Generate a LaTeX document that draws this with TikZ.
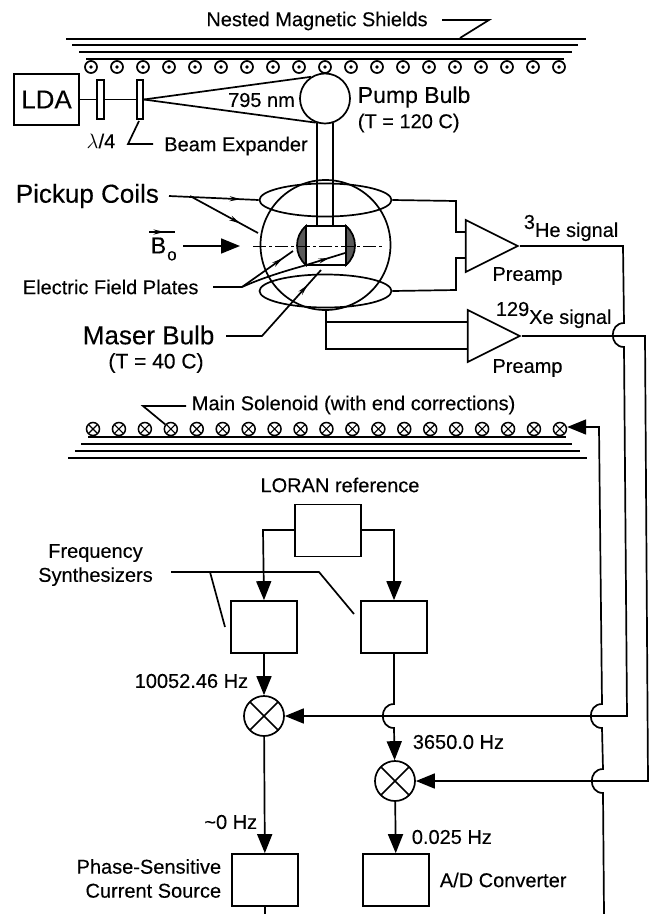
\documentclass[tikz,border=0pt]{standalone}
\usepackage{fontspec}
\setmainfont[FakeBold=0.25]{Liberation Sans}
\usetikzlibrary{arrows.meta,shapes.geometric,decorations.markings}

\tikzset{
  txt/.style={inner sep=0pt,font=\fontsize{20}{24}\selectfont,align=center},
  bigtxt/.style={inner sep=0pt,font=\fontsize{26}{30}\selectfont},
  bx/.style={draw,rectangle,inner sep=0pt,minimum width=66pt,minimum height=52pt},
  plate/.style={draw,rectangle,inner sep=0pt,fill=white,minimum width=7pt,minimum height=39pt},
  wireout/.style={draw,circle,inner sep=0pt,minimum size=12pt,
    path picture={\fill (path picture bounding box.center) circle (1.8pt);}},
  wirein/.style={draw,circle,inner sep=0pt,minimum size=13pt,line width=1.5pt,
    path picture={\draw[line width=1.1pt] (path picture bounding box.north west) -- (path picture bounding box.south east)
      (path picture bounding box.north east) -- (path picture bounding box.south west);}},
  mixer/.style={draw,circle,inner sep=0pt,minimum size=40pt,
    path picture={\draw (path picture bounding box.north west) -- (path picture bounding box.south east)
      (path picture bounding box.north east) -- (path picture bounding box.south west);}},
  amp/.style={draw,isosceles triangle,isosceles triangle stretches,inner sep=0pt,
    minimum width=52pt,minimum height=52pt,anchor=apex},
  coil/.style={draw,ellipse,inner sep=0pt,minimum width=132pt,minimum height=33pt},
  tip/.style={-{Triangle[length=19pt,width=15pt]}},
  backtip/.style={{Triangle[length=19pt,width=15pt]}-},
  midtip/.style={postaction={decorate},decoration={markings,
    mark=at position #1 with {\arrow{Stealth[length=11pt,width=5pt]}}}},
  hop/.style={insert path={.. controls +(-15,0) and +(-15,0) .. +(0,24)}},
  shield/.style={line width=1.9pt}
}

\begin{document}
\begin{tikzpicture}[x=1pt,y=-1pt,line width=1.7pt]
  \useasboundingbox (0,0) rectangle (652,914);

  % shields and windings
  \foreach \y/\a/\b in {39/66/586,45/72/578,52/79/572,59/86/564,
                        437/88/566,444/81/572,451/75/580,458/68/587}
    \draw[shield] (\a,\y) -- (\b,\y);
  \foreach \i in {0,...,18}
    \node[wireout] (top\i) at ({91+26*\i},67) {};
  \foreach \i in {0,...,18}
    \node[wirein] (sol\i) at ({93+25.94*\i},429) {};

  % optics
  \begin{scope}[every node/.style={}]
    \node[draw,rectangle,inner sep=0pt,minimum width=65pt,minimum height=51pt,
      font=\fontsize{26}{30}\selectfont] (lda) at (46.5,99.5) {LDA};
    \node[plate] (wave) at (100.5,99.5) {};
    \node[plate,minimum width=6pt] (expander) at (140,99.5) {};
    \node[draw,circle,inner sep=0pt,minimum size=50pt] (pump) at (325,98.5) {};
    \node[draw,circle,inner sep=0pt,minimum size=130pt] (maser) at (325.5,245) {};
    \node[coil] (coilup) at (325.5,200) {};
    \node[coil] (coildown) at (325.5,291) {};
  \end{scope}
  \path[draw,fill=black!65] (306,226) .. controls (294,236) and (294,255) .. (306,265) -- cycle;
  \path[draw,fill=black!65] (346,226) .. controls (358,236) and (358,255) .. (346,265) -- cycle;
  \node[draw,rectangle,inner sep=0pt,minimum width=40pt,minimum height=39pt] (cell) at (326,245.5) {};

  \coordinate (stemla) at (317,123);
  \coordinate (stemlb) at (317,226);
  \coordinate (stemra) at (333,123);
  \coordinate (stemrb) at (333,226);
  \coordinate (axisa) at (253,246);
  \coordinate (axisb) at (384,246);
  \draw (lda) -- (wave);
  \draw (wave) -- (expander);
  \draw (expander.east) -- (pump.123);
  \draw (expander.east) -- (pump.249);
  \draw (stemla) -- (stemlb);
  \draw (stemra) -- (stemrb);
  \draw[line width=.8pt,dash pattern=on 13pt off 3pt on 3pt off 3pt] (axisa) -- (axisb);

  % labels, top half
  \node[txt] (shieldtxt) at (317,21) {Nested Magnetic Shields};
  \node[txt] (nm) at (261.5,100) {795 nm};
  \node[txt] (qwtxt) at (101,141) {$\lambda$/4};
  \node[txt] (beamtxt) at (236,146) {Beam Expander};
  \node[inner sep=0pt,font=\fontsize{23}{27}\selectfont,anchor=west] (pumptxt) at (357,97) {Pump Bulb};
  \node[txt,anchor=west] (pumpt) at (357,123) {(T = 120 C)};
  \node[bigtxt,anchor=west] (pickup) at (15,196) {Pickup Coils};
  \node[inner sep=0pt,font=\fontsize{23}{27}\selectfont,anchor=west] (bfield) at (150,249)
    {B\kern1pt\raisebox{-7pt}{\fontsize{17}{17}\selectfont o}};
  \node[txt,anchor=west] (platetxt) at (22,287) {Electric Field Plates};
  \node[bigtxt,anchor=west] (masertxt) at (82,335) {Maser Bulb};
  \node[txt,font=\fontsize{21}{24}\selectfont] (masert) at (156,363) {(T = 40 C)};
  \node[txt,anchor=west] (soltxt) at (191,405) {Main Solenoid (with end corrections)};

  % leaders
  \coordinate (sha) at (442,20);
  \coordinate (shb) at (489,20);
  \coordinate (shc) at (460,38);
  \draw (sha) -- (shb) -- (shc);
  \coordinate (bea) at (139,121);
  \coordinate (beb) at (128,144);
  \coordinate (bec) at (153,144);
  \draw (bea) -- (beb) -- (bec);
  \coordinate (pia) at (169,196);
  \coordinate (pib) at (190,196);
  \coordinate (pic) at (258,233);
  \draw[midtip=.8] (pia) -- (coilup.west);
  \draw[midtip=.74] (pib) -- (pic);
  \coordinate (ba) at (149,232);
  \coordinate (bb) at (175,232);
  \draw[midtip=.6] (ba) -- (bb);
  \coordinate (bc) at (183,246);
  \coordinate (bd) at (240,246);
  \draw[tip] (bc) -- (bd);
  \coordinate (ela) at (213,287);
  \coordinate (elb) at (242,287);
  \coordinate (elc) at (293,251);
  \coordinate (eld) at (303,266);
  \coordinate (ele) at (345,253);
  \draw (ela) -- (elb);
  \draw[midtip=.8] (elb) -- (elc);
  \draw[midtip=.85] (elb) .. controls (262,278) and (285,271) .. (eld) -- (ele);
  \coordinate (maa) at (226,336);
  \coordinate (mab) at (262,336);
  \coordinate (mac) at (321,270);
  \draw[midtip=.84] (maa) -- (mab) -- (mac);
  \coordinate (soa) at (186,406);
  \coordinate (sob) at (143,406);
  \draw (soa) -- (sob) -- (sol3);

  % preamps
  \node[amp] (heamp) at (520,246) {};
  \node[amp] (xeamp) at (522,336) {};
  \node[txt,anchor=west] (hetxt) at (523,228) {\raisebox{8pt}{3}He signal};
  \node[txt,anchor=west] (xetxt) at (495,315) {\raisebox{8pt}{129}Xe signal};
  \node[txt] (prea) at (527.5,276) {Preamp};
  \node[txt] (preb) at (527.5,368) {Preamp};

  \coordinate (hia) at (456,201);
  \coordinate (hib) at (456,232);
  \coordinate (hie) at (456,258);
  \coordinate (hif) at (456,290);
  \draw (coilup.east) -- (hia) -- (hib) -- (hib -| heamp.west);
  \draw (hie -| heamp.west) -- (hie) -- (hif) -- (coildown.east);
  \coordinate (xia) at (326,309);
  \coordinate (xib) at (326,322);
  \coordinate (xid) at (326,349);
  \draw (xia) -- (xid) -- (xid -| xeamp.west);
  \draw (xib) -- (xib -| xeamp.west);

  % frequency chain
  \node[bx] (loran) at (328,530.5) {};
  \node[bx] (syna) at (264,627) {};
  \node[bx] (synb) at (394,627) {};
  \node[mixer] (mixa) at (264,716) {};
  \node[mixer] (mixb) at (395,781) {};
  \node[bx] (current) at (265,880) {};
  \node[bx] (adc) at (396,880) {};

  \node[txt] (lorantxt) at (340,485) {LORAN reference};
  \node[txt] (freqtxt) at (95.5,565) {Frequency\\Synthesizers};
  \node[txt,anchor=east] (atxt) at (249,681) {10052.46 Hz};
  \node[txt,anchor=east] (ztxt) at (258,822) {\textasciitilde 0 Hz};
  \node[txt,align=right,anchor=east] (currenttxt) at (222,878.5) {Phase-Sensitive\\Current Source};
  \node[txt,anchor=west] (btxt) at (412,742) {3650.0 Hz};
  \node[txt,anchor=west] (ctxt) at (411,837) {0.025 Hz};
  \node[txt,anchor=west] (adctxt) at (439,880) {A/D Converter};

  \coordinate (loa) at (263,530);
  \coordinate (lob) at (394,530);
  \draw[tip] (loran.west |- loa) -- (loa) -- (syna.north);
  \draw[tip] (loran.east |- lob) -- (lob) -- (synb.north);
  \draw[tip] (syna) -- (mixa);
  \draw[tip] (mixa) -- (current);
  \draw[tip] (mixb) -- (adc);
  \coordinate (syhop) at (394,704);
  \draw[tip] (synb) -- (syhop) [hop] -- (mixb);

  \coordinate (fra) at (171,572);
  \coordinate (frb) at (319,572);
  \coordinate (frc) at (354,614);
  \coordinate (frd) at (210,572);
  \coordinate (fre) at (225,627);
  \draw (fra) -- (frb) -- (frc);
  \draw (frd) -- (fre);

  % long signal lines on the right
  \coordinate (hea) at (623,246);
  \coordinate (heb) at (624,323);
  \coordinate (hec) at (627,716);
  \draw[tip] (heamp.apex) -- (hea) -- (heb) [hop] -- (hec) -- (mixa);
  \coordinate (xea) at (645,336);
  \coordinate (xeb) at (648,781);
  \draw[tip] (xeamp.apex) -- (xea) -- (xeb) -- (mixb);
  \coordinate (sola) at (599,427);
  \coordinate (solb) at (602,704);
  \coordinate (solc) at (603,769);
  \coordinate (sold) at (604,914);
  \draw[backtip] (sol18.east |- sola) -- (sola) -- (solb) [hop] -- (solc) [hop] -- (sold);
  \coordinate (cura) at (265,914);
  \draw (current) -- (cura);

\end{tikzpicture}
\end{document}
